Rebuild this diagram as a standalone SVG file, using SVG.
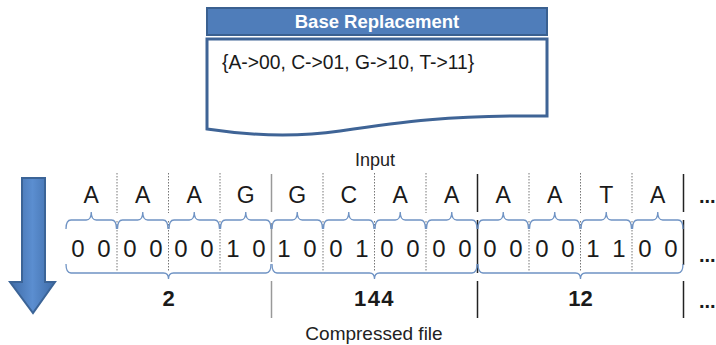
<svg xmlns="http://www.w3.org/2000/svg" width="716" height="345" viewBox="0 0 716 345">
<defs>
<linearGradient id="arrowGrad" x1="0" y1="0" x2="1" y2="0">
<stop offset="0" stop-color="#3F6CA8"/>
<stop offset="0.5" stop-color="#5B8ED0"/>
<stop offset="1" stop-color="#3F6CA8"/>
</linearGradient>
<style>
.t{font-family:"Liberation Sans",Arial,sans-serif;fill:#1a1a1a}
.big{font-size:23px;text-anchor:middle}
.bit{font-size:24px;text-anchor:middle}
.num{font-size:22px;text-anchor:middle;font-weight:bold}
.lbl{font-size:18px;text-anchor:middle;fill:#222}
.dots{font-size:20px;font-weight:bold}
.brace{fill:none;stroke:#6F93C4;stroke-width:1.3}
.dot{stroke:#777;stroke-width:1;stroke-dasharray:1.5 1.5}
.solid{stroke:#222;stroke-width:1.5}
.gray{stroke:#999;stroke-width:1.5}
</style>
</defs>

<g id="base-replacement">
<rect x="207" y="8" width="340" height="27" fill="#4F7DBA" stroke="#3A6090" stroke-width="2"/>
<text x="377" y="28" class="t" style="font-size:18.5px;font-weight:bold;fill:#fff;text-anchor:middle">Base Replacement</text>
<path d="M207,39 H547 V116 C450,115 400,122 340,131 C290,138 240,134 207,129 Z" fill="#fff" stroke="#3F6496" stroke-width="3"/>
<text x="222" y="69" class="t" style="font-size:19.3px">{A-&gt;00, C-&gt;01, G-&gt;10, T-&gt;11}</text>
</g>

<g id="arrow">
<polygon points="22,178 45,178 45,282 55,282 33,313 10,282 22,282" fill="url(#arrowGrad)" stroke="#3B6497" stroke-width="2" stroke-linejoin="miter"/>
</g>

<g id="labels">
<text x="375" y="166" class="t lbl">Input</text>
<text x="374" y="340" class="t lbl" style="font-size:19px">Compressed file</text>
</g>

<g id="input-row">
<text x="91.25" y="203" class="t big">A</text>
<text x="142.75" y="203" class="t big">A</text>
<text x="194.25" y="203" class="t big">A</text>
<text x="245.75" y="203" class="t big">G</text>
<text x="297.25" y="203" class="t big">G</text>
<text x="348.75" y="203" class="t big">C</text>
<text x="400.25" y="203" class="t big">A</text>
<text x="451.75" y="203" class="t big">A</text>
<text x="503.25" y="203" class="t big">A</text>
<text x="554.75" y="203" class="t big">A</text>
<text x="606.25" y="203" class="t big">T</text>
<text x="657.75" y="203" class="t big">A</text>
<text x="699" y="203" class="t dots">...</text>
</g>

<g id="bit-row">
<text x="78" y="257" class="t bit">0</text><text x="104" y="257" class="t bit">0</text>
<text x="130" y="257" class="t bit">0</text><text x="156" y="257" class="t bit">0</text>
<text x="181" y="257" class="t bit">0</text><text x="207" y="257" class="t bit">0</text>
<text x="233" y="257" class="t bit">1</text><text x="259" y="257" class="t bit">0</text>
<text x="284" y="257" class="t bit">1</text><text x="310" y="257" class="t bit">0</text>
<text x="336" y="257" class="t bit">0</text><text x="362" y="257" class="t bit">1</text>
<text x="387" y="257" class="t bit">0</text><text x="413" y="257" class="t bit">0</text>
<text x="439" y="257" class="t bit">0</text><text x="465" y="257" class="t bit">0</text>
<text x="490" y="257" class="t bit">0</text><text x="516" y="257" class="t bit">0</text>
<text x="542" y="257" class="t bit">0</text><text x="568" y="257" class="t bit">0</text>
<text x="593" y="257" class="t bit">1</text><text x="619" y="257" class="t bit">1</text>
<text x="645" y="257" class="t bit">0</text><text x="671" y="257" class="t bit">0</text>
<text x="699" y="262" class="t dots">...</text>
</g>

<g id="compressed-row">
<text x="168.5" y="306" class="t num">2</text>
<text x="374.5" y="306" class="t num" style="letter-spacing:1.5px">144</text>
<text x="580.5" y="306" class="t num">12</text>
<text x="699" y="308" class="t dots">...</text>
</g>

<g id="connectors">
<g id="separators">
<line x1="117" y1="173" x2="117" y2="213" class="dot"/><line x1="117" y1="221" x2="117" y2="272" class="dot"/>
<line x1="168.5" y1="173" x2="168.5" y2="213" class="dot"/><line x1="168.5" y1="221" x2="168.5" y2="272" class="dot"/>
<line x1="220" y1="173" x2="220" y2="213" class="dot"/><line x1="220" y1="221" x2="220" y2="272" class="dot"/>
<line x1="323" y1="173" x2="323" y2="213" class="dot"/><line x1="323" y1="221" x2="323" y2="272" class="dot"/>
<line x1="374.5" y1="173" x2="374.5" y2="213" class="dot"/><line x1="374.5" y1="221" x2="374.5" y2="272" class="dot"/>
<line x1="426" y1="173" x2="426" y2="213" class="dot"/><line x1="426" y1="221" x2="426" y2="272" class="dot"/>
<line x1="529" y1="173" x2="529" y2="213" class="dot"/><line x1="529" y1="221" x2="529" y2="272" class="dot"/>
<line x1="580.5" y1="173" x2="580.5" y2="213" class="dot"/><line x1="580.5" y1="221" x2="580.5" y2="272" class="dot"/>
<line x1="632" y1="173" x2="632" y2="213" class="dot"/><line x1="632" y1="221" x2="632" y2="272" class="dot"/>
<line x1="271.5" y1="174" x2="271.5" y2="212" class="gray"/><line x1="271.5" y1="223" x2="271.5" y2="262" class="gray"/><line x1="271.5" y1="281" x2="271.5" y2="318" class="gray"/>
<line x1="477.5" y1="174" x2="477.5" y2="212" class="solid"/><line x1="477.5" y1="220" x2="477.5" y2="273" class="solid"/><line x1="477.5" y1="281" x2="477.5" y2="318" class="solid"/>
<line x1="683.5" y1="174" x2="683.5" y2="212" class="solid"/><line x1="683.5" y1="220" x2="683.5" y2="265" class="solid"/><line x1="683.5" y1="281" x2="683.5" y2="318" class="solid"/>
</g>
<g id="top-braces">
<path class="brace" d="M66,229 Q66,220 71,220 H86.25 Q91.25,220 91.25,212 Q91.25,220 96.25,220 H111.5 Q116.5,220 116.5,229"/>
<path class="brace" d="M117.5,229 Q117.5,220 122.5,220 H137.75 Q142.75,220 142.75,212 Q142.75,220 147.75,220 H163 Q168,220 168,229"/>
<path class="brace" d="M169,229 Q169,220 174,220 H189.25 Q194.25,220 194.25,212 Q194.25,220 199.25,220 H214.5 Q219.5,220 219.5,229"/>
<path class="brace" d="M220.5,229 Q220.5,220 225.5,220 H240.75 Q245.75,220 245.75,212 Q245.75,220 250.75,220 H266 Q271,220 271,229"/>
<path class="brace" d="M272,229 Q272,220 277,220 H292.25 Q297.25,220 297.25,212 Q297.25,220 302.25,220 H317.5 Q322.5,220 322.5,229"/>
<path class="brace" d="M323.5,229 Q323.5,220 328.5,220 H343.75 Q348.75,220 348.75,212 Q348.75,220 353.75,220 H369 Q374,220 374,229"/>
<path class="brace" d="M375,229 Q375,220 380,220 H395.25 Q400.25,220 400.25,212 Q400.25,220 405.25,220 H420.5 Q425.5,220 425.5,229"/>
<path class="brace" d="M426.5,229 Q426.5,220 431.5,220 H446.75 Q451.75,220 451.75,212 Q451.75,220 456.75,220 H472 Q477,220 477,229"/>
<path class="brace" d="M478,229 Q478,220 483,220 H498.25 Q503.25,220 503.25,212 Q503.25,220 508.25,220 H523.5 Q528.5,220 528.5,229"/>
<path class="brace" d="M529.5,229 Q529.5,220 534.5,220 H549.75 Q554.75,220 554.75,212 Q554.75,220 559.75,220 H575 Q580,220 580,229"/>
<path class="brace" d="M581,229 Q581,220 586,220 H601.25 Q606.25,220 606.25,212 Q606.25,220 611.25,220 H626.5 Q631.5,220 631.5,229"/>
<path class="brace" d="M632.5,229 Q632.5,220 637.5,220 H652.75 Q657.75,220 657.75,212 Q657.75,220 662.75,220 H678 Q683,220 683,229"/>
</g>
<g id="bottom-braces">
<path class="brace" d="M66,264 Q66,273 71,273 H163.5 Q168.5,273 168.5,279 Q168.5,273 173.5,273 H266 Q271,273 271,264"/>
<path class="brace" d="M272,264 Q272,273 277,273 H369.5 Q374.5,273 374.5,279 Q374.5,273 379.5,273 H472 Q477,273 477,264"/>
<path class="brace" d="M478,264 Q478,273 483,273 H575.5 Q580.5,273 580.5,279 Q580.5,273 585.5,273 H678 Q683,273 683,264"/>
</g>
</g>
</svg>
